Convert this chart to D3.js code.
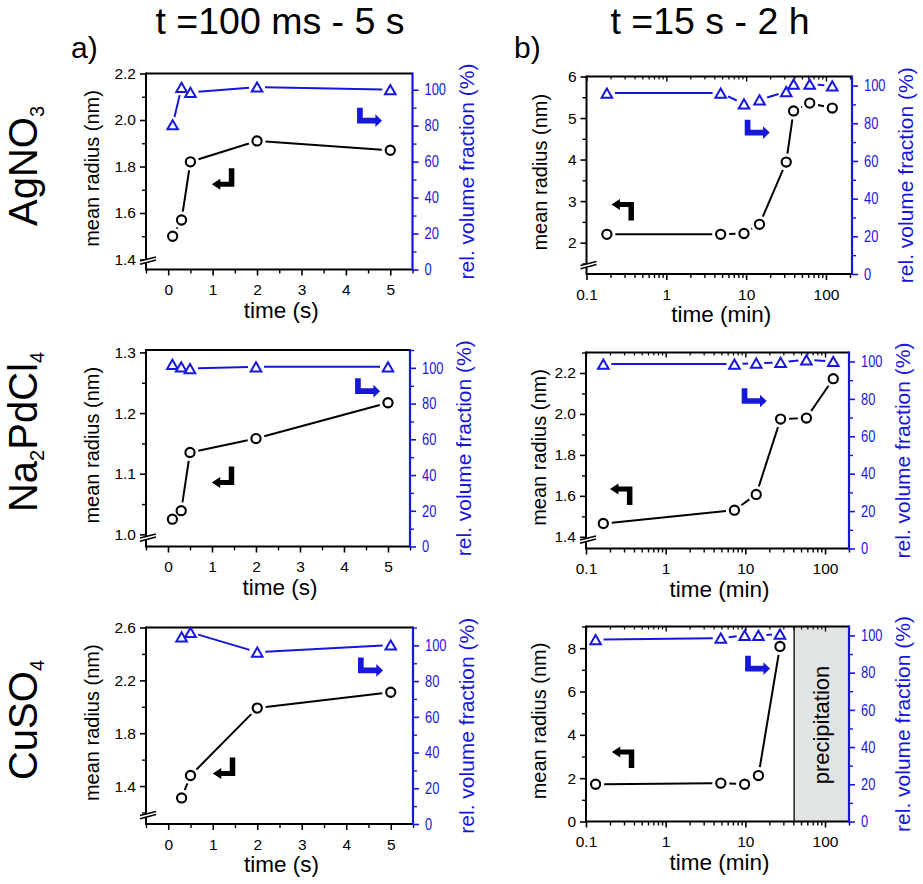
<!DOCTYPE html>
<html><head><meta charset="utf-8">
<script src="https://cdn.jsdelivr.net/npm/d3@7"></script>
<style>
body{margin:0;background:#fff}
svg{display:block}
text{font-family:"Liberation Sans",Arial,Helvetica,sans-serif}
</style>
</head><body>
<svg id="chart" width="923" height="884"></svg>
<script>
// ---------------- DATA ----------------
// a) t = 100 ms - 5 s  (time in s)
const timeA_Ag   = [0.1, 0.3, 0.5, 2, 5];
const radiusA_Ag = [1.50, 1.57, 1.82, 1.91, 1.87];
const volA_Ag    = [80.5, 101.3, 98.5, 101.5, 100];

const timeA_Pd   = [0.1, 0.3, 0.5, 2, 5];
const radiusA_Pd = [1.025, 1.039, 1.135, 1.158, 1.217];
const volA_Pd    = [101.9, 100.6, 99.6, 100.6, 100.6];

const timeA_Cu   = [0.3, 0.5, 2, 5];
const radiusA_Cu = [1.31, 1.48, 1.99, 2.11];
const volA_Cu    = [104.7, 107.3, 96.2, 100.2];

// b) t = 15 s - 2 h  (time in min)
const timeB_Ag   = [0.18, 4.8, 9.4, 14.7, 31.8, 39.3, 62.6, 120];
const radiusB_Ag = [2.20, 2.20, 2.22, 2.44, 3.94, 5.17, 5.36, 5.24];
const volB_Ag    = [96.0, 96.0, 90.3, 92.4, 96.8, 100.7, 100.7, 99.8];

const timeB_Pd   = [0.165, 7.3, 13.7, 27.7, 58.4, 127];
const radiusB_Pd = [1.465, 1.53, 1.607, 1.975, 1.98, 2.172];
const volB_Pd    = [98.6, 98.6, 99.1, 99.5, 100.9, 100];

const timeB_Cu   = [0.132, 4.92, 9.8, 14.6, 27.2];
const radiusB_Cu = [1.72, 1.77, 1.72, 2.12, 8.08];
const volB_Cu    = [97.7, 98.6, 100, 100, 100.7];

const precipStartCu = 41; // min

// tick labels
const timeTicksA = [0, 1, 2, 3, 4, 5];
const timeTicksB = [0.1, 1, 10, 100];
const timeTickLabelsB = ["0.1", "1", "10", "100"];
const volTicks = [0, 20, 40, 60, 80, 100];
const radTicksA_Ag = [1.4, 1.6, 1.8, 2.0, 2.2];
const radTicksB_Ag = [2, 3, 4, 5, 6];
const radTicksA_Pd = [1.0, 1.1, 1.2, 1.3];
const radTicksB_Pd = [1.4, 1.6, 1.8, 2.0, 2.2];
const radTicksA_Cu = [1.4, 1.8, 2.2, 2.6];
const radTicksB_Cu = [0, 2, 4, 6, 8];

const rowLabels = [["AgNO", "3"], ["Na", "2", "PdCl", "4"], ["CuSO", "4"]];
const colTitles = ["t =100 ms - 5 s", "t =15 s - 2 h"];
const colLetters = ["a)", "b)"];

// ---------------- LAYOUT / STYLE ----------------
const BLUE = "#1717dc";
const svg = d3.select("#chart");

const panels = [
  {frame:[146,73.5,412.5,269.5], log:false, xDom:[-0.5,5.5], yL:[1.357,2.2], yR:[0,109],
   t:timeA_Ag, r:radiusA_Ag, v:volA_Ag, rt:radTicksA_Ag, rfmt:".1f", col:0, brk:true,
   bk:[0.247,0.483], bl:[0.792,0.175]},
  {frame:[586.5,76.5,852,274], log:true, xDom:[0.1,212], yL:[1.245,6], yR:[0,104.8],
   t:timeB_Ag, r:radiusB_Ag, v:volB_Ag, rt:radTicksB_Ag, rfmt:"d", col:1, brk:true,
   bk:[0.094,0.62], bl:[0.596,0.219]},
  {frame:[146,350,410,546.5], log:false, xDom:[-0.5,5.5], yL:[0.98,1.304], yR:[0,110],
   t:timeA_Pd, r:radiusA_Pd, v:volA_Pd, rt:radTicksA_Pd, rfmt:".1f", col:0, brk:true,
   bk:[0.249,0.593], bl:[0.792,0.144]},
  {frame:[586,352.5,849,548.5], log:true, xDom:[0.1,200], yL:[1.343,2.3], yR:[0,104.8],
   t:timeB_Pd, r:radiusB_Pd, v:volB_Pd, rt:radTicksB_Pd, rfmt:".1f", col:1, brk:true,
   bk:[0.091,0.668], bl:[0.592,0.182]},
  {frame:[146,627.5,413,824], log:false, xDom:[-0.5,5.5], yL:[1.113,2.6], yR:[0,110],
   t:timeA_Cu, r:radiusA_Cu, v:volA_Cu, rt:radTicksA_Cu, rfmt:".1f", col:0, brk:true,
   bk:[0.25,0.661], bl:[0.794,0.153]},
  {frame:[586,626.5,849,821.5], log:true, xDom:[0.1,200], yL:[0,9], yR:[0,104.8],
   t:timeB_Cu, r:radiusB_Cu, v:volB_Cu, rt:radTicksB_Cu, rfmt:"d", col:1, brk:false,
   precip:precipStartCu, bk:[0.098,0.615], bl:[0.605,0.150]}
];

// arrow shapes (pixel paths relative to anchor)
const ARROW_BLACK_DOWN = "M17,0 H22.5 V18.5 H8.5 V21.5 L0,16 L8.5,10.5 V13.5 H17 Z";
const ARROW_BLACK_UP   = "M17,21.5 H22.5 V3 H8.5 V0 L0,5.5 L8.5,11 V8 H17 Z";
const ARROW_BLUE       = "M0,0 H5.7 V10 H18.3 V6.5 L25,12.85 L18.3,19.2 V15.7 H0 Z";

function minorBetween(majors, dom) {
  const step = majors[1] - majors[0];
  const out = [];
  const lo = Math.min(dom[0], dom[1]), hi = Math.max(dom[0], dom[1]);
  for (let v = majors[0] - step/2; v <= hi + 1e-9; v += step) {
    if (v >= lo - 1e-9) out.push(+v.toFixed(6));
  }
  return out.filter(v => !majors.some(m => Math.abs(m - v) < 1e-9));
}
function logMinor(dom) {
  const out = [];
  for (let d = 0.1; d < 1000; d *= 10) {
    for (let k = 2; k <= 9; k++) {
      const v = +(d * k).toPrecision(6);
      if (v >= dom[0] && v <= dom[1]) out.push(v);
    }
  }
  return out;
}

// segments shortened near markers (gap to symbol)
function segs(xs, ys, gap) {
  const out = [];
  for (let i = 0; i < xs.length - 1; i++) {
    const dx = xs[i+1] - xs[i], dy = ys[i+1] - ys[i];
    const L = Math.hypot(dx, dy);
    if (L <= 2*gap + 0.5) continue;
    const ux = dx / L, uy = dy / L;
    out.push([xs[i] + ux*gap, ys[i] + uy*gap, xs[i+1] - ux*gap, ys[i+1] - uy*gap]);
  }
  return out;
}

function drawPanel(p) {
  const [x0, y0, x1, y1] = p.frame;
  const w = x1 - x0, h = y1 - y0;
  const x = (p.log ? d3.scaleLog() : d3.scaleLinear()).domain(p.xDom).range([x0, x1]);
  const yl = d3.scaleLinear().domain(p.yL).range([y1, y0]);
  const yr = d3.scaleLinear().domain(p.yR).range([y1, y0]);
  const g = svg.append("g");

  // precipitation region
  if (p.precip) {
    const xp = x(p.precip);
    g.append("rect").attr("x", xp).attr("y", y0).attr("width", x1 - xp).attr("height", h)
      .attr("fill", "#e1e4e4");
    g.append("line").attr("x1", xp).attr("x2", xp).attr("y1", y0).attr("y2", y1)
      .attr("stroke", "#222").attr("stroke-width", 1.5);
    g.append("text").attr("transform", `translate(${xp + (x1 - xp)/2 + 7},${(y0+y1)/2 + 1}) rotate(-90)`)
      .attr("text-anchor", "middle").attr("font-size", 22).attr("fill", "#000").text("precipitation");
  }

  // axes (bottom)
  const bottomMajor = p.log ? timeTicksB : timeTicksA;
  const bottomMinor = p.log ? logMinor(p.xDom) : minorBetween(timeTicksA, p.xDom);
  const ax = g.append("g").attr("transform", `translate(0,${y1})`)
    .call(d3.axisBottom(x).tickValues(bottomMajor).tickSize(6).tickPadding(8.5)
      .tickFormat((d, i) => p.log ? timeTickLabelsB[i] : d3.format("d")(d)));
  ax.select(".domain").remove();
  ax.selectAll("line").attr("stroke", "#000").attr("stroke-width", 1.6);
  ax.selectAll("text").attr("font-size", 15.5).attr("fill", "#000").attr("font-family", null);
  const axm = g.append("g").attr("transform", `translate(0,${y1})`)
    .call(d3.axisBottom(x).tickValues(bottomMinor).tickSize(4).tickFormat(""));
  axm.select(".domain").remove();
  axm.selectAll("line").attr("stroke", "#000").attr("stroke-width", 1.4);

  // top inward ticks for log panels
  if (p.log) {
    const at = g.append("g").attr("transform", `translate(0,${y0})`)
      .call(d3.axisBottom(x).tickValues(bottomMajor).tickSize(5).tickFormat(""));
    at.select(".domain").remove();
    at.selectAll("line").attr("stroke", "#000").attr("stroke-width", 1.4);
    const atm = g.append("g").attr("transform", `translate(0,${y0})`)
      .call(d3.axisBottom(x).tickValues(bottomMinor).tickSize(3).tickFormat(""));
    atm.select(".domain").remove();
    atm.selectAll("line").attr("stroke", "#000").attr("stroke-width", 1.2);
  }

  // left axis
  const al = g.append("g").attr("transform", `translate(${x0},0)`)
    .call(d3.axisLeft(yl).tickValues(p.rt).tickSize(6).tickPadding(4).tickFormat(d3.format(p.rfmt)));
  al.select(".domain").remove();
  al.selectAll("line").attr("stroke", "#000").attr("stroke-width", 1.6);
  al.selectAll("text").attr("font-size", 15.5).attr("fill", "#000").attr("font-family", null);
  const alm = g.append("g").attr("transform", `translate(${x0},0)`)
    .call(d3.axisLeft(yl).tickValues(minorBetween(p.rt, p.yL)).tickSize(4).tickFormat(""));
  alm.select(".domain").remove();
  alm.selectAll("line").attr("stroke", "#000").attr("stroke-width", 1.4);

  // right axis
  const ar = g.append("g").attr("transform", `translate(${x1},0)`)
    .call(d3.axisRight(yr).tickValues(volTicks).tickSize(6).tickPadding(6).tickFormat(d3.format("d")));
  ar.select(".domain").remove();
  ar.selectAll("line").attr("stroke", BLUE).attr("stroke-width", 1.6);
  ar.selectAll("text").attr("font-size", 16.5).attr("fill", BLUE).attr("font-family", null)
    .attr("x", 12 / 0.78).attr("transform", "scale(0.78,1)");
  const arm = g.append("g").attr("transform", `translate(${x1},0)`)
    .call(d3.axisRight(yr).tickValues(minorBetween(volTicks, p.yR)).tickSize(4).tickFormat(""));
  arm.select(".domain").remove();
  arm.selectAll("line").attr("stroke", BLUE).attr("stroke-width", 1.4);

  // frame
  g.append("line").attr("x1", x0).attr("x2", x1).attr("y1", y0).attr("y2", y0).attr("stroke", "#000").attr("stroke-width", 2);
  g.append("line").attr("x1", x0).attr("x2", x1).attr("y1", y1).attr("y2", y1).attr("stroke", "#000").attr("stroke-width", 2);
  g.append("line").attr("x1", x0).attr("x2", x0).attr("y1", y0 - 1).attr("y2", y1 + 1).attr("stroke", "#000").attr("stroke-width", 2);
  g.append("line").attr("x1", x1).attr("x2", x1).attr("y1", y0 - 1).attr("y2", y1 + 1).attr("stroke", BLUE).attr("stroke-width", 2.2);

  // axis break
  if (p.brk) {
    const bg = g.append("g").attr("transform", `translate(${x0 + 2},${y1 - 9.6})`);
    bg.append("path").attr("d", "M-8,1.2 L8,-3 L8,0.2 L-8,4.4 Z").attr("fill", "#fff");
    bg.append("line").attr("x1", -8).attr("y1", 1.2).attr("x2", 8).attr("y2", -3).attr("stroke", "#000").attr("stroke-width", 1.5);
    bg.append("line").attr("x1", -8).attr("y1", 4.4).attr("x2", 8).attr("y2", 0.2).attr("stroke", "#000").attr("stroke-width", 1.5);
  }

  // series: volume fraction (blue triangles)
  const vx = p.t.map(d => x(d)), vy = p.v.map(d => yr(d));
  g.append("g").selectAll("line").data(segs(vx, vy, 8)).join("line")
    .attr("x1", d => d[0]).attr("y1", d => d[1]).attr("x2", d => d[2]).attr("y2", d => d[3])
    .attr("stroke", BLUE).attr("stroke-width", 2);
  g.append("g").selectAll("path").data(p.t.map((d, i) => [x(d), yr(p.v[i])])).join("path")
    .attr("d", d => `M${d[0]},${d[1] - 4.6} L${d[0] + 5.3},${d[1] + 4.6} L${d[0] - 5.3},${d[1] + 4.6} Z`)
    .attr("fill", "#fff").attr("stroke", BLUE).attr("stroke-width", 2).attr("stroke-linejoin", "miter");

  // series: mean radius (black circles)
  const rx = p.t.map(d => x(d)), ry = p.r.map(d => yl(d));
  g.append("g").selectAll("line").data(segs(rx, ry, 8.5)).join("line")
    .attr("x1", d => d[0]).attr("y1", d => d[1]).attr("x2", d => d[2]).attr("y2", d => d[3])
    .attr("stroke", "#000").attr("stroke-width", 2);
  g.append("g").selectAll("circle").data(p.t.map((d, i) => [x(d), yl(p.r[i])])).join("circle")
    .attr("cx", d => d[0]).attr("cy", d => d[1]).attr("r", 4.6)
    .attr("fill", "#fff").attr("stroke", "#000").attr("stroke-width", 2.1);

  // arrows
  g.append("path").attr("transform", `translate(${x0 + p.bk[0]*w},${y0 + p.bk[1]*h})`)
    .attr("d", p.col === 0 ? ARROW_BLACK_DOWN : ARROW_BLACK_UP).attr("fill", "#000");
  g.append("path").attr("transform", `translate(${x0 + p.bl[0]*w},${y0 + p.bl[1]*h})`)
    .attr("d", ARROW_BLUE).attr("fill", BLUE);

  // axis titles
  const yc = (y0 + y1) / 2 - 3;
  g.append("text").attr("transform", `translate(${x0 - (p.col === 0 ? 47 : 40)},${yc}) rotate(-90)`)
    .attr("text-anchor", "middle").attr("font-size", 20).attr("fill", "#000").text("mean radius (nm)");
  g.append("text").attr("transform", `translate(${x1 + 61},${(y0 + y1)/2}) rotate(-90)`)
    .attr("text-anchor", "middle").attr("font-size", 21).attr("fill", BLUE).text("rel. volume fraction (%)");
  g.append("text").attr("x", (x0 + x1) / 2 + 2).attr("y", y1 + 48)
    .attr("text-anchor", "middle").attr("font-size", 22.5).attr("fill", "#000")
    .text(p.log ? "time (min)" : "time (s)");
}

panels.forEach(drawPanel);

// column titles and letters
svg.append("text").attr("x", 280).attr("y", 34).attr("text-anchor", "middle").attr("font-size", 37.5).text(colTitles[0]);
svg.append("text").attr("x", 710).attr("y", 34).attr("text-anchor", "middle").attr("font-size", 37.5).text(colTitles[1]);
svg.append("text").attr("x", 71).attr("y", 58).attr("font-size", 30).text(colLetters[0]);
svg.append("text").attr("x", 514).attr("y", 58).attr("font-size", 30).text(colLetters[1]);

// row labels (rotated, with subscripts)
const rowCenters = [166, 432, 720];
rowLabels.forEach((parts, i) => {
  const t = svg.append("text").attr("transform", `translate(36.5,${rowCenters[i]}) rotate(-90)`)
    .attr("text-anchor", "middle").attr("font-size", 40).attr("fill", "#000");
  parts.forEach((s, k) => {
    const sub = k % 2 === 1;
    t.append("tspan").attr("font-size", sub ? 20 : 40).attr("dy", sub ? 7 : (k > 0 ? -7 : 0)).text(s);
  });
});
</script>
</body></html>
